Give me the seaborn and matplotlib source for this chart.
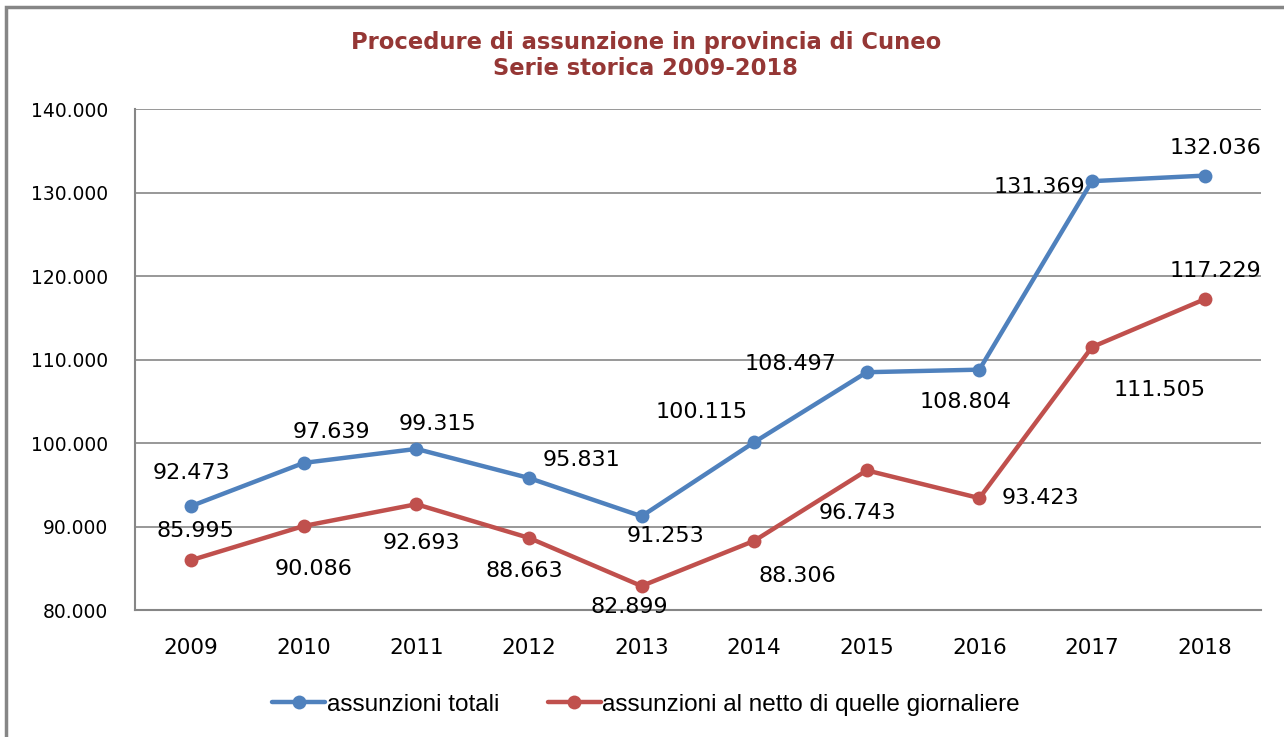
import pandas as pd
import seaborn as sns
import matplotlib.pyplot as plt
from matplotlib.patches import Rectangle
from matplotlib.ticker import FuncFormatter

# Dati
anni = ['2009', '2010', '2011', '2012', '2013', '2014', '2015', '2016', '2017', '2018']
totali = [92473, 97639, 99315, 95831, 91253, 100115, 108497, 108804, 131369, 132036]
netto = [85995, 90086, 92693, 88663, 82899, 88306, 96743, 93423, 111505, 117229]

serie_tot = 'assunzioni totali'
serie_net = 'assunzioni al netto di quelle giornaliere'

df = pd.DataFrame({
    'anno': anni * 2,
    'valore': totali + netto,
    'serie': [serie_tot] * len(anni) + [serie_net] * len(anni),
})

blu = '#4F81BD'
rosso = '#C0504D'
grigio = '#868686'

sns.set_style('white')
plt.rcParams['font.family'] = ['DejaVu Sans']

fig = plt.figure(figsize=(12.84, 7.37), dpi=100)
ax = fig.add_axes([0.105, 0.172, 0.877, 0.680])

sns.lineplot(data=df, x='anno', y='valore', hue='serie', sort=False,
             palette={serie_tot: blu, serie_net: rosso},
             marker='o', markersize=10, markeredgewidth=0, linewidth=3.2,
             ax=ax, legend=True)

ax.set_xlim(-0.5, len(anni) - 0.5)
ax.set_ylim(80000, 140000)
ax.set_yticks(range(80000, 140001, 10000))
ax.yaxis.set_major_formatter(FuncFormatter(lambda v, p: f'{int(v):,}'.replace(',', '.')))
ax.grid(axis='y', color=grigio, linewidth=1.2)
ax.set_axisbelow(True)
for s in ['top', 'right']:
    ax.spines[s].set_visible(False)
for s in ['left', 'bottom']:
    ax.spines[s].set_color(grigio)
    ax.spines[s].set_linewidth(1.5)
ax.tick_params(axis='y', labelsize=13.5, pad=19, length=0, labelcolor='black')
ax.tick_params(axis='x', labelsize=15.5, pad=20, length=0, labelcolor='black')
ax.set_xlabel('')
ax.set_ylabel('')

fmt = lambda v: f'{v:,}'.replace(',', '.')

# posizioni etichette (offset in punti)
off_tot = [(0, 24), (20, 22), (15, 18), (38, 13), (17, -14), (-38, 22), (-55, 6), (-10, -23), (-38, -4), (8, 20)]
off_net = [(3, 21), (7, -31), (4, -28), (-3, -24), (-9, -15), (31, -25), (-7, -31), (44, 0), (49, -31), (8, 20)]

for i, (v, o) in enumerate(zip(totali, off_tot)):
    ax.annotate(fmt(v), (i, v), xytext=o, textcoords='offset points',
                ha='center', va='center', fontsize=16, color='black')
for i, (v, o) in enumerate(zip(netto, off_net)):
    ax.annotate(fmt(v), (i, v), xytext=o, textcoords='offset points',
                ha='center', va='center', fontsize=16, color='black')

fig.text(0.503, 0.943, 'Procedure di assunzione in provincia di Cuneo',
         ha='center', va='center', fontsize=16.3, fontweight='bold', color='#953735')
fig.text(0.503, 0.907, 'Serie storica 2009-2018',
         ha='center', va='center', fontsize=16.3, fontweight='bold', color='#953735')

handles, labels = ax.get_legend_handles_labels()
leg = ax.legend(handles, labels, loc='center', bbox_to_anchor=(0.503, 0.044),
                bbox_transform=fig.transFigure, ncol=2, frameon=False,
                handlelength=2.2, handletextpad=0.05, columnspacing=2.0,
                labelcolor='black',
                prop={'family': ['Liberation Sans', 'DejaVu Sans'], 'size': 17.5})

fig.patches.append(Rectangle((6 / 1284, -0.1), 1.2, 1 - 7 / 737 + 0.1,
                             transform=fig.transFigure, fill=False,
                             edgecolor=grigio, linewidth=2.5))

fig.savefig('out.png', dpi=100)
